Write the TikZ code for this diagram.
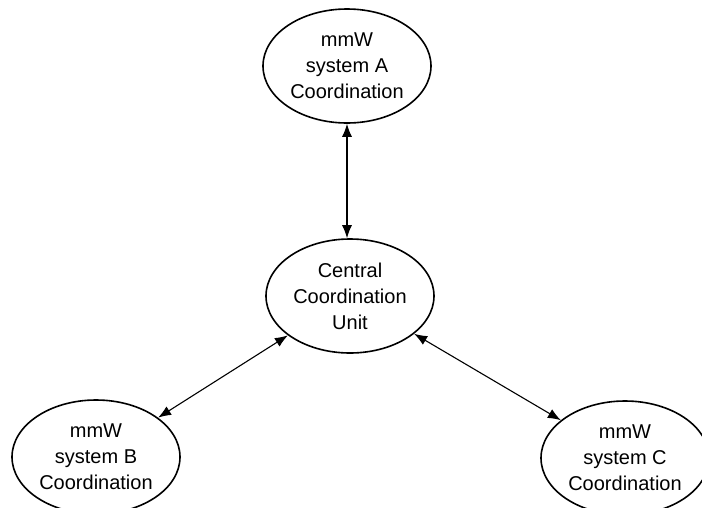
\documentclass[tikz,border=0pt]{standalone}
\usepackage{fontspec}
\setmainfont{Liberation Sans}
\usetikzlibrary{shapes.geometric,arrows.meta}
\begin{document}
\begin{tikzpicture}[x=1pt,y=-1pt,
  unit/.style={draw, line width=1.6pt, ellipse, minimum width=168pt, minimum height=114pt,
    inner sep=0pt, align=center, font=\fontsize{20}{26}\selectfont},
  link/.style={line width=1.1pt, {Latex[length=13pt,width=10pt]}-{Latex[length=13pt,width=10pt]}}]
  \useasboundingbox (0,0) rectangle (702,507);
  \node[unit] (a) at (347,66) {mmW\\system A\\Coordination};
  \node[unit] (cen) at (350,296) {Central\\Coordination\\Unit};
  \node[unit] (b) at (96,457) {mmW\\system B\\Coordination};
  \node[unit] (c) at (625,458) {mmW\\system C\\Coordination};
  \draw[link] (cen.north -| a.south) -- (a.south);
  \draw[link] (cen) -- (b);
  \draw[link] (cen) -- (c);
\end{tikzpicture}
\end{document}
